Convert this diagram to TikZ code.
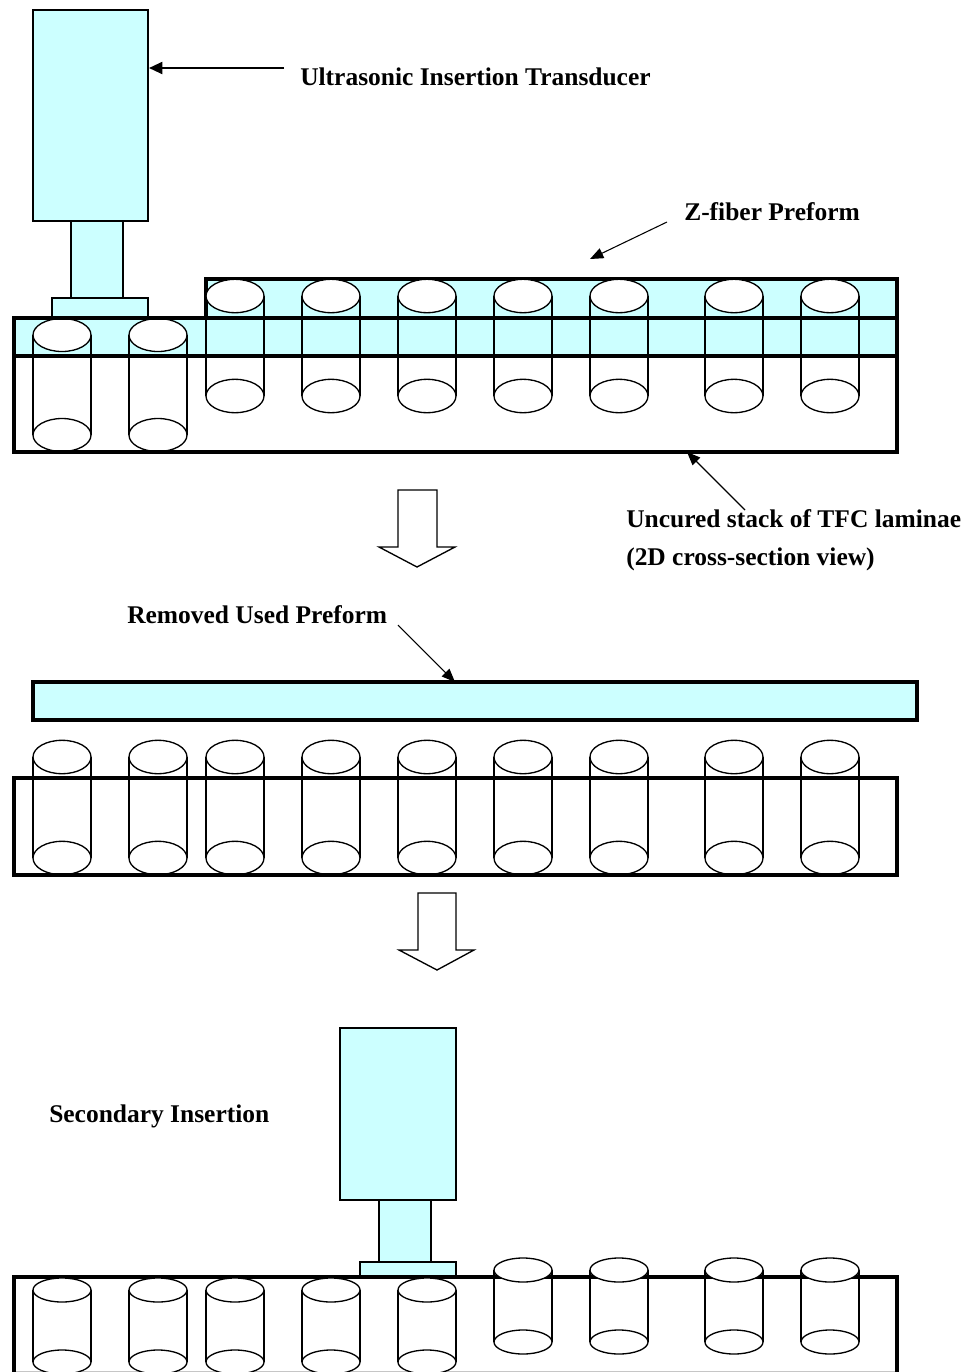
\documentclass[tikz,border=0pt]{standalone}
\usepackage{fontspec}
\setmainfont{Liberation Serif}
\usetikzlibrary{arrows.meta}
\definecolor{paleblue}{HTML}{CCFFFF}
\tikzset{
  part/.style={draw=black,fill=paleblue,line width=1pt},
  heavypart/.style={draw=black,fill=paleblue,line width=2.3pt},
  stackbox/.style={draw=black,line width=2.3pt},
  fibre/.style={draw=black,line width=1pt},
  pointer/.style={draw=black,line width=0.8pt,-{Triangle[length=10pt,width=8pt]}},
  heavypointer/.style={draw=black,line width=1.5pt,-{Triangle[length=10pt,width=9pt]}},
  caption/.style={font=\bfseries\fontsize{19.1}{22}\selectfont,inner sep=0pt,anchor=base west},
  blockarrow/.style={draw=black,fill=white,line width=1pt,line join=miter}
}
% cylinder: cx, top centre y, bottom centre y, ry
\newcommand{\fibrecyl}[4]{%
  \draw[fibre] (#1-29,#2) -- (#1-29,#3) (#1+29,#2) -- (#1+29,#3);
  \draw[fibre,fill=white] (#1,#3) ellipse [x radius=29,y radius=#4];
  \draw[fibre,fill=white] (#1,#2) ellipse [x radius=29,y radius=#4];
}
\begin{document}
\begin{tikzpicture}[x=0.75pt,y=-0.75pt]
\useasboundingbox (0,0) rectangle (970,1372);
\clip (0,0) rectangle (970,1372);

% --- first stage
\draw[part] (33,10) rectangle (148,221);
\draw[part] (71,221) rectangle (123,298);
\draw[part] (52,298) rectangle (148,318);
\draw[heavypart] (206,279) rectangle (897,318);
\draw[heavypart] (14,318) rectangle (897,356);
\foreach \c in {62,158} {\fibrecyl{\c}{335}{435}{16.5}}
\foreach \c in {235,331,427,523,619,734,830} {\fibrecyl{\c}{296}{396}{16.7}}
\draw[stackbox] (14,318) rectangle (897,452);

\node[caption] (ult) at (300,85) {Ultrasonic Insertion Transducer};
\node[caption] (zfp) at (684,220) {Z-fiber Preform};
\node[caption] (unc) at (626,527) {Uncured stack of TFC laminae};
\node[caption] (sec) at (626,565) {(2D cross-section view)};
\coordinate (ultS) at (284,68);
\coordinate (ultE) at (149,68);
\coordinate (zfpS) at (667,222);
\coordinate (zfpE) at (590,259);
\coordinate (uncS) at (745,510);
\coordinate (uncE) at (687,452);
\draw[heavypointer] (ultS) -- (ultE);
\draw[pointer] (zfpS) -- (zfpE);
\draw[pointer] (uncS) -- (uncE);

\draw[blockarrow] (398,490) -- (437,490) -- (437,547) -- (455,547) -- (417,567) -- (379,547) -- (398,547) -- cycle;

% --- second stage
\node[caption] (rem) at (127,623) {Removed Used Preform};
\draw[heavypart] (33,682) rectangle (917,720);
\coordinate (remS) at (398,625);
\coordinate (remE) at (455,682);
\draw[pointer] (remS) -- (remE);
\foreach \c in {62,158,235,331,427,523,619,734,830} {\fibrecyl{\c}{757}{858}{16.7}}
\draw[stackbox] (14,778) rectangle (897,875);

\draw[blockarrow] (418,893) -- (456,893) -- (456,950) -- (474,950) -- (437,970) -- (399,950) -- (418,950) -- cycle;

% --- third stage
\node[caption] (sin) at (49,1122) {Secondary Insertion};
\draw[part] (340,1028) rectangle (456,1200);
\draw[part] (379,1200) rectangle (431,1262);
\draw[part] (360,1262) rectangle (456,1277);
\draw[gray!45,line width=0.8pt] (14,1371.4) -- (897,1371.4);
\draw[stackbox] (14,1376) -- (14,1277) -- (897,1277) -- (897,1376);
\foreach \c in {62,158,235,331,427} {\fibrecyl{\c}{1290}{1362}{12}}
\foreach \c in {523,619,734,830} {\fibrecyl{\c}{1270}{1342}{12}}
\end{tikzpicture}
\end{document}
